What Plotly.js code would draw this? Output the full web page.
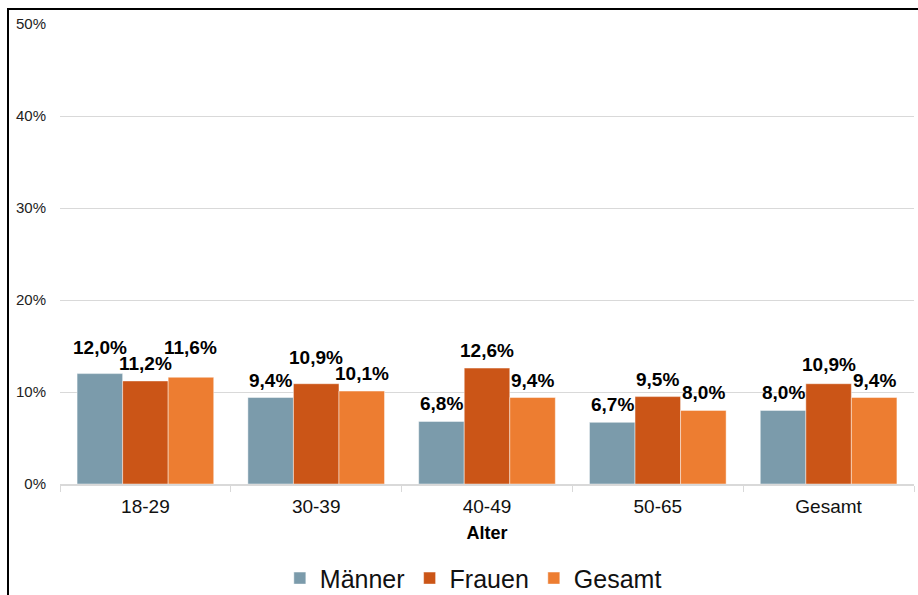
<!DOCTYPE html>
<html><head><meta charset="utf-8">
<script src="https://cdn.plot.ly/plotly-3.0.1.min.js"></script>
<style>
html,body{margin:0;padding:0;background:#fff;}
#wrap{position:relative;width:918px;height:595px;overflow:hidden;}
#chart{position:absolute;left:0;top:0;width:918px;height:595px;}
#frame{position:absolute;left:7px;top:8px;width:1000px;height:1000px;border-left:2px solid #000;border-top:2px solid #000;pointer-events:none;}
</style></head>
<body><div id="wrap"><div id="chart"></div><div id="frame"></div></div>
<script>
const categories = ["18-29","30-39","40-49","50-65","Gesamt"];
const maenner = [12.0, 9.4, 6.8, 6.7, 8.0];
const frauen  = [11.2, 10.9, 12.6, 9.5, 10.9];
const gesamt  = [11.6, 10.1, 9.4, 8.0, 9.4];
const seriesNames = ["Männer","Frauen","Gesamt"];
const colors = ["#7b9bab","#cb5517","#ed7d31"];
const yTickVals = [0,10,20,30,40,50];
const yTickText = ["0%","10%","20%","30%","40%","50%"];

const W = 918, H = 595, M = {l: 60, r: 4, t: 24, b: 111};
const YMAX = 50, BARGAP = 0.2;
const LABEL_FONT = 19, LABEL_FAMILY = "Liberation Sans, Arial, sans-serif";
const fmt = v => v.toFixed(1).replace(".", ",") + "%";
const seriesVals = [maenner, frauen, gesamt];

const data = seriesVals.map((vals, i) => ({
  type: "bar", name: seriesNames[i], x: categories, y: vals,
  marker: {color: colors[i], line: {color: "rgba(255,255,255,0.45)", width: 1}},
  hoverinfo: "none"
}));

// label placement: above each bar; labels that collide with a neighbour are lifted
const plotW = W - M.l - M.r, plotH = H - M.t - M.b;
const barPx = plotW / categories.length * (1 - BARGAP) / seriesVals.length;
const ctx = document.createElement("canvas").getContext("2d");
ctx.font = "bold " + LABEL_FONT + "px " + LABEL_FAMILY;
const GAP = 5, TXT_H = 16;
const annotations = [];
categories.forEach((cat, j) => {
  const labs = seriesVals.map((vals, i) => {
    const v = vals[j];
    return {v, i, text: fmt(v), w: ctx.measureText(fmt(v)).width,
            cx: (i - (seriesVals.length - 1) / 2) * barPx,
            bottom: plotH * (1 - v / YMAX) - GAP};
  });
  for (let pass = 0; pass < 3; pass++) {
    for (let k = 0; k < labs.length - 1; k++) {
      const a = labs[k], b = labs[k + 1];
      const hOver = (a.w + b.w) / 2 - (b.cx - a.cx);
      if (hOver > 0 && Math.abs(a.bottom - b.bottom) < TXT_H) {
        const hi = a.v >= b.v ? a : b, lo = hi === a ? b : a;
        hi.bottom = lo.bottom - TXT_H;
      }
    }
  }
  labs.forEach(l => {
    annotations.push({
      x: cat, y: l.v, xref: "x", yref: "y", xshift: l.cx,
      yanchor: "bottom", yshift: plotH * (1 - l.v / YMAX) - l.bottom, showarrow: false,
      text: "<b>" + l.text + "</b>",
      font: {family: LABEL_FAMILY, size: LABEL_FONT, color: "#000"}
    });
  });
});

const layout = {
  width: W, height: H, margin: M,
  paper_bgcolor: "rgba(0,0,0,0)", plot_bgcolor: "#fff",
  barmode: "group", bargap: BARGAP, bargroupgap: 0,
  font: {family: "Liberation Sans, Arial, sans-serif", color: "#000"},
  showlegend: true,
  legend: {orientation: "h", x: 0.484, xanchor: "center", yref: "container", y: 0.028, yanchor: "middle",
    font: {size: 25, color: "#111"}, itemwidth: 30, tracegroupgap: 0},
  annotations: annotations,
  xaxis: {
    type: "category", automargin: false, showline: true, linecolor: "#d9d9d9", linewidth: 1.5,
    ticks: "outside", tickson: "boundaries", ticklen: 6, tickcolor: "#d9d9d9",
    tickfont: {size: 19, color: "#111"}, ticklabelstandoff: 5,
    title: {text: "<b>Alter</b>", font: {size: 18, color: "#000"}, standoff: 10}
  },
  yaxis: {
    automargin: false, range: [0, YMAX], tickvals: yTickVals, ticktext: yTickText,
    showgrid: true, gridcolor: "#d9d9d9", gridwidth: 1, zeroline: false,
    showline: false, ticks: "", tickfont: {size: 15, color: "#222"}, ticklabelstandoff: 13
  }
};
Plotly.newPlot("chart", data, layout, {displayModeBar: false, staticPlot: true});
</script></body></html>
